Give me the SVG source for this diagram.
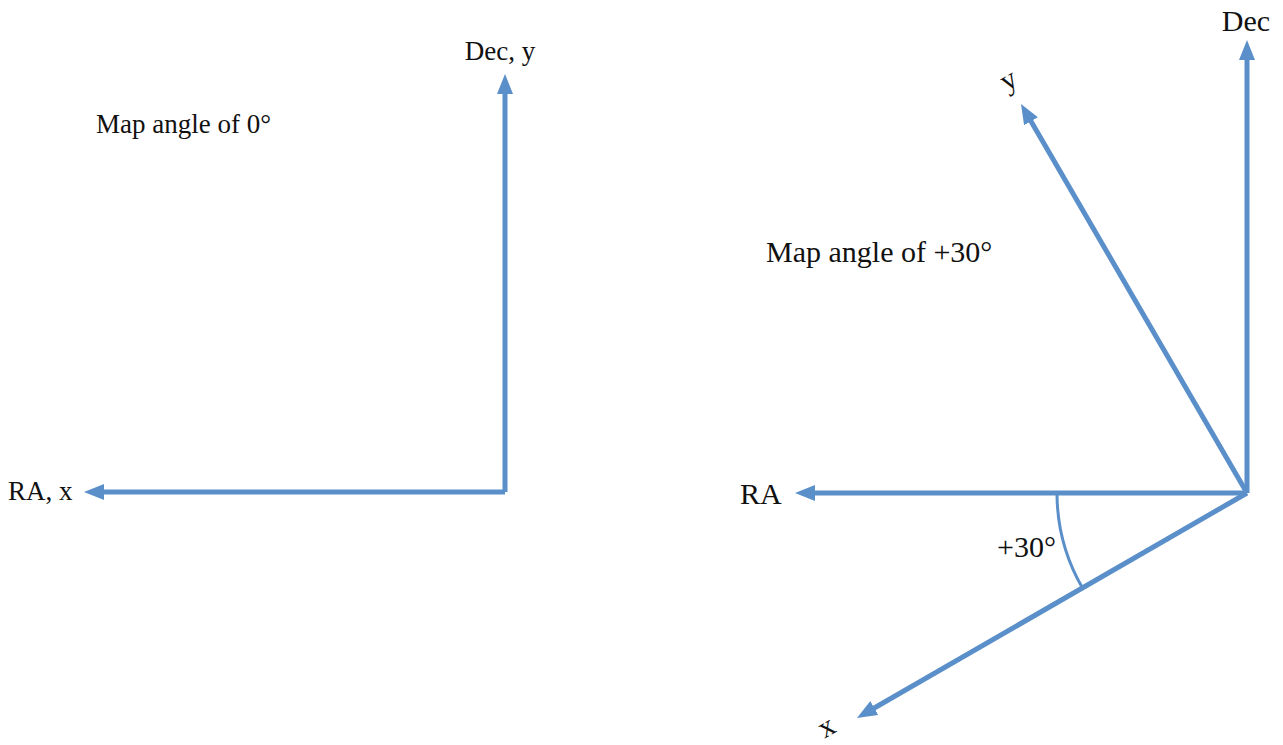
<svg xmlns="http://www.w3.org/2000/svg" width="1283" height="745" viewBox="0 0 1283 745">
<style>
.ax{stroke:#5b8fc9;stroke-width:5;fill:none;marker-end:url(#ah)}
.arc{stroke:#5b8fc9;stroke-width:3;fill:none}
.t{font-family:"Liberation Serif","Times New Roman",serif;fill:#111}
.l{font-size:27px}
.r{font-size:30px}
</style>
<defs>
<marker id="ah" viewBox="0 0 20 16" markerWidth="20" markerHeight="16" refX="9" refY="8" orient="auto" markerUnits="userSpaceOnUse">
<path d="M0,0 L20,8 L0,16 z" fill="#5b8fc9"/>
</marker>
</defs>
<g id="connectors">
<line class="ax" x1="505" y1="492" x2="505" y2="85"/>
<line class="ax" x1="505" y1="492" x2="95" y2="492"/>
<line class="ax" x1="1247" y1="493" x2="1247" y2="51"/>
<line class="ax" x1="1247" y1="493" x2="806" y2="493"/>
<line class="ax" x1="1247" y1="493" x2="1026.5" y2="113.5"/>
<line class="ax" x1="1247" y1="493" x2="866.5" y2="712.5"/>
<path class="arc" d="M1057,493 A190,190 0 0,0 1082.5,588"/>
</g>
<g id="left-labels">
<text class="t l" x="500" y="60" text-anchor="middle">Dec, y</text>
<text class="t l" x="96" y="133">Map angle of 0°</text>
<text class="t l" x="8" y="500">RA, x</text>
</g>
<g id="right-labels">
<text class="t r" x="1246" y="31" text-anchor="middle">Dec</text>
<text class="t r" x="766" y="262">Map angle of +30°</text>
<text class="t r" x="740" y="504">RA</text>
<text class="t r" x="997" y="557">+30°</text>
<text class="t r" text-anchor="middle" transform="translate(1013,88) rotate(-30)">y</text>
<text class="t r" text-anchor="middle" transform="translate(831,735) rotate(-30)">x</text>
</g>
</svg>
